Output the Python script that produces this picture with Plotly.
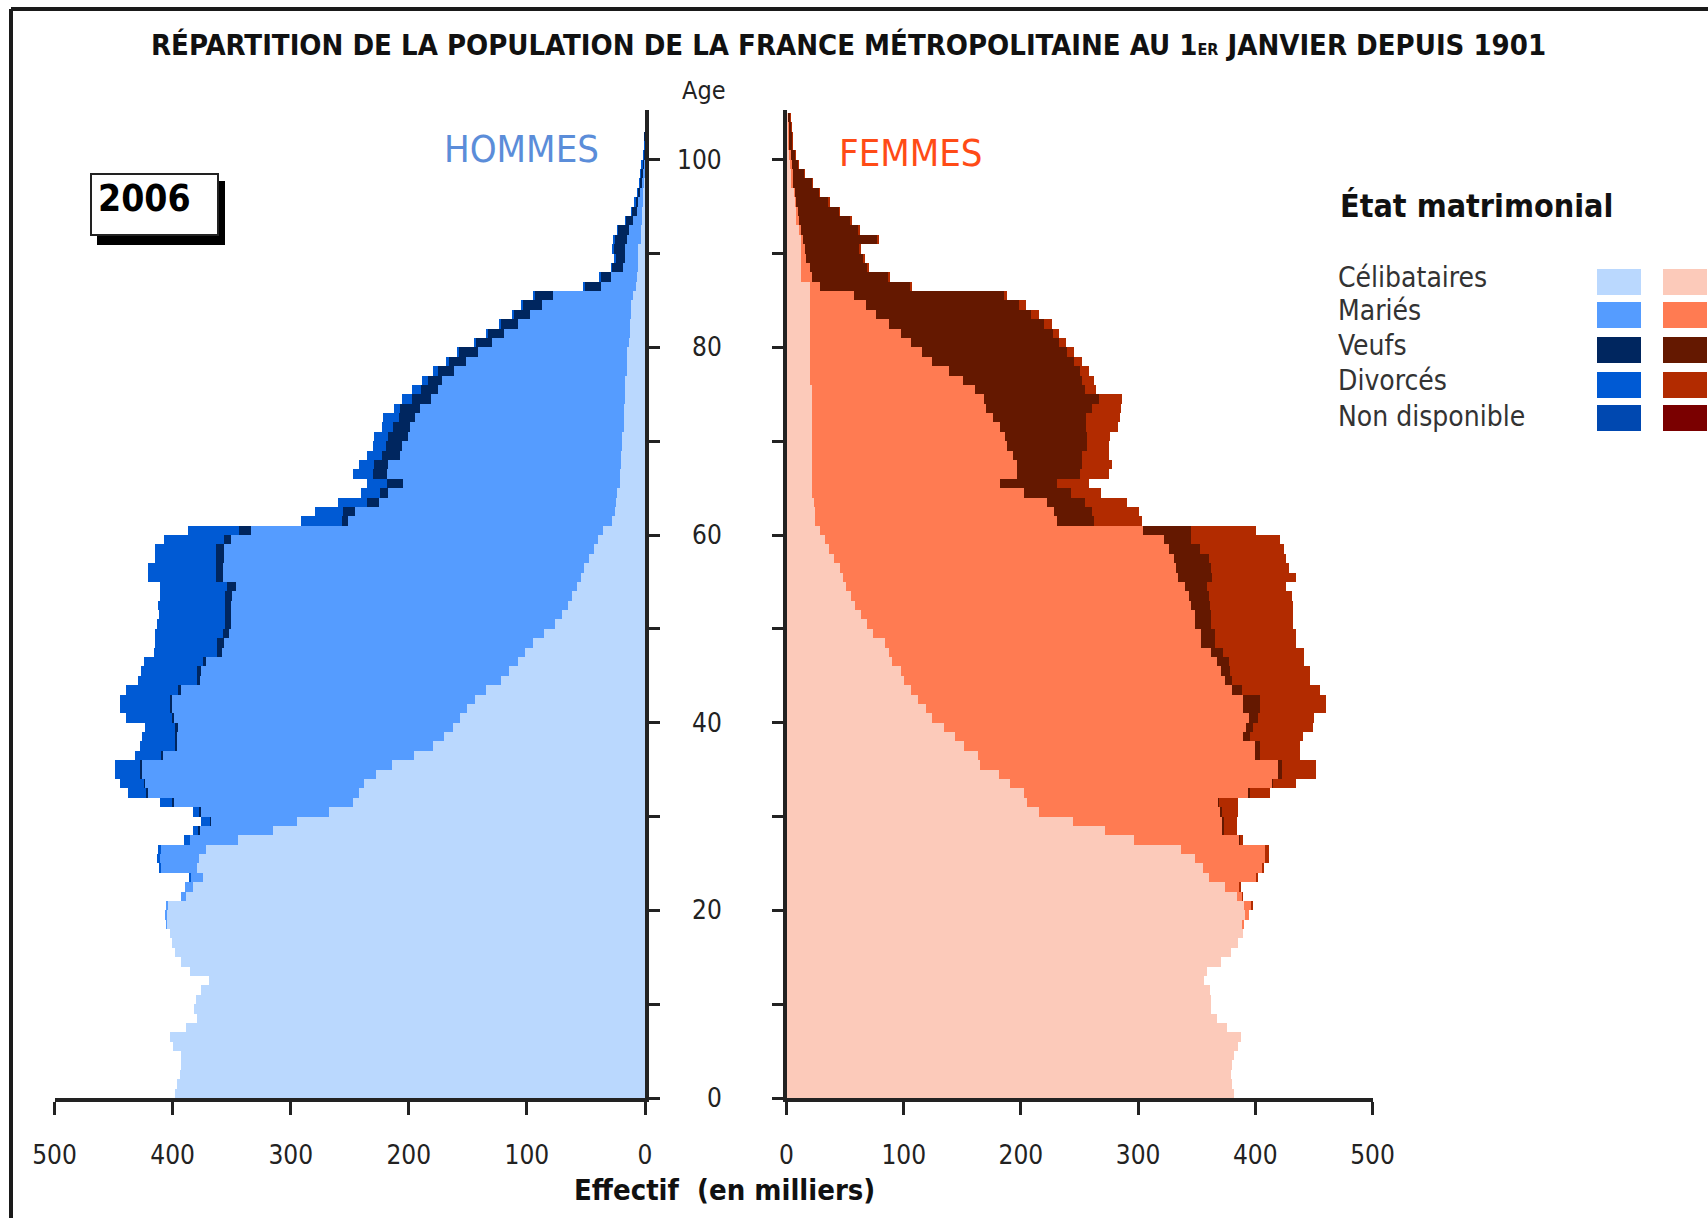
import plotly.graph_objects as go

# ---------------- DATA (effectifs en milliers, âges 0 à 105) ----------------
ages = list(range(106))

hommes_celibataires = [
    398, 397, 394, 393, 393, 400, 403, 389, 380, 382, 381, 376, 370, 386, 393, 398, 401, 403,
    405.5, 406, 404, 389, 383, 375, 380, 378, 372, 345, 315, 295, 268, 248, 243, 238, 228, 215,
    196, 180, 171, 163, 157, 151, 144, 135, 122, 116, 108, 102, 95, 86, 77, 71, 66, 62, 58, 55,
    52, 48, 44, 40, 36, 28, 26, 25, 24, 22, 22, 21, 21, 20, 20, 18, 18, 18, 17, 17, 17, 16, 16,
    16, 14, 13, 13, 12, 12, 11, 8, 7, 6, 6, 6, 4, 4, 3, 3, 2, 2, 1, 1, 0.8, 0.5, 0.2, 0.1, 0.05,
    0, 0]
hommes_maries = [
    0, 0, 0, 0, 0, 0, 0, 0, 0, 0, 0, 0, 0, 0, 0, 0, 0, 0,
    0.5, 1, 2, 4, 7, 10, 30, 33, 38, 41, 63, 73, 109, 152, 179, 186, 199, 212,
    213, 217, 226, 233, 242, 250, 257, 258, 255, 260, 264, 257, 262, 267, 274, 280, 285, 288, 289, 303,
    306, 309, 313, 311, 298, 224, 220, 201, 194, 183, 197, 197, 187, 186, 181, 181, 177, 173, 165, 159, 155, 146, 136,
    126, 116, 107, 95, 86, 76, 67, 30, 22, 13, 11, 11, 12, 10, 8, 4, 4, 3, 2, 1.5, 1.2, 0.5, 0.3, 0.1, 0.05,
    0, 0]
hommes_veufs = [
    0, 0, 0, 0, 0, 0, 0, 0, 0, 0, 0, 0, 0, 0, 0, 0, 0, 0,
    0, 0, 0, 0, 0, 0, 0, 0, 0, 0, 0.5, 1, 1, 1, 1, 1, 1, 1,
    1, 1, 1, 2, 2, 2, 2, 3, 3, 4, 3, 4, 6, 5, 5, 5, 5, 6, 7, 6,
    6, 7, 7, 6, 10, 5, 10, 10, 7, 14, 12, 12, 15, 14, 17, 15, 14, 17, 16, 14, 12, 14, 14,
    16, 14, 14, 15, 14, 16, 16, 14, 9, 9.5, 8.5, 10.5, 10.5, 9.5, 5.7, 4.8, 2.8, 1.8, 1.9, 1.4, 0.9, 0.9, 0.4, 0.3, 0.2,
    0.1, 0]
hommes_divorces = [
    0, 0, 0, 0, 0, 0, 0, 0, 0, 0, 0, 0, 0, 0, 0, 0, 0, 0,
    0, 0, 0, 0, 0, 1, 2, 3, 3, 5, 4.5, 7, 5, 10, 15, 20, 21, 21,
    22, 30, 28, 26, 39, 42, 42, 44, 50, 47, 50, 53, 52, 57, 58, 56, 57, 55, 57, 57,
    57, 51, 51, 51, 43, 35, 24, 24, 16, 17, 17, 13, 13, 11, 12, 9, 13, 5, 8, 8, 5, 4, 3,
    1, 1, 1, 1, 1, 1, 1, 1, 1, 0.5, 0.5, 0.5, 0.5, 0.5, 0.3, 0.2, 0.2, 0.2, 0.1, 0.1, 0.1, 0.1, 0.1, 0, 0,
    0, 0]

femmes_celibataires = [
    381, 380, 379, 380, 381, 385, 387, 375, 367, 362, 362, 361, 356, 358, 370, 379, 385, 389,
    388, 391, 390, 384, 374, 360, 355, 348, 336, 296, 271, 244, 215, 205, 202, 190, 181, 165,
    163, 151, 143, 134, 124, 119, 112, 106, 100, 97, 90, 87, 84, 73, 68, 63, 58, 55, 50, 48,
    45, 40, 36, 32, 28, 24, 24, 23, 21, 21, 21, 21, 21, 21, 21, 21, 21, 21, 21, 21, 20, 20, 20,
    20, 20, 20, 20, 20, 20, 20, 20, 12, 12, 12, 12, 12, 10, 8, 8, 7, 6, 4, 4, 3, 2.5, 1, 1, 1,
    1, 0]
femmes_mariees = [
    0, 0, 0, 0, 0, 0, 0, 0, 0, 0, 0, 0, 0, 0, 0, 0, 0, 0,
    2, 3, 6, 4.5, 12, 41, 50, 60, 72, 90, 101, 128, 155, 163, 192, 224, 238, 254,
    236, 248, 246, 258, 270, 270, 277, 274, 274, 273, 277, 275, 269, 280, 280, 285, 287, 288, 290, 286,
    287, 290, 290, 290, 276, 206, 204, 199, 181, 161, 175, 175, 172, 167, 165, 161, 155, 149, 147, 139, 130, 118, 104,
    95, 86, 77, 67, 56, 47, 37, 8, 9, 8, 4, 3, 2, 2, 2, 1, 1, 1, 1, 1, 1, 0.5, 0.5, 0.5, 0.3,
    0.2, 0]
femmes_veuves = [
    0, 0, 0, 0, 0, 0, 0, 0, 0, 0, 0, 0, 0, 0, 0, 0, 0, 0,
    0, 0, 0, 0, 0, 0, 0, 0, 0, 0.5, 0.5, 0.5, 1, 1, 1, 1, 3, 3,
    5, 5, 6, 6, 8, 15, 15, 8, 6, 8, 10, 10, 12, 12, 14, 14, 16, 17, 18, 29,
    30, 30, 26, 23, 41, 32, 32, 32, 40, 48, 54, 56, 59, 68, 70, 73, 79, 90, 98, 94, 102, 112, 121,
    124, 126, 130, 132, 132, 131, 128, 77, 65, 49, 49, 47, 63, 49, 44, 35.5, 27.5, 20.5, 16.7, 9.8, 5.8, 3.9, 3.4, 3.4, 2.6,
    1.7, 0]
femmes_divorcees = [
    0, 0, 0, 0, 0, 0, 0, 0, 0, 0, 0, 0, 0, 0, 0, 0, 0, 0,
    0, 0, 1, 0.5, 1, 1, 2, 3, 3, 2.5, 11.5, 11.5, 14, 16, 17, 19, 29, 29,
    34, 34, 45, 51, 48, 56, 56, 67, 66, 68, 64, 69, 69, 69, 70, 70, 71, 71, 68, 71,
    66, 66, 72, 76, 55, 41, 40, 36, 26, 28, 25, 25, 23, 19, 20, 27, 29, 25, 20, 10, 10, 8, 7,
    6, 6, 5, 7, 7, 6, 3, 2, 2, 1, 1, 1, 1, 1, 1, 0.5, 0.5, 0.5, 0.3, 0.2, 0.2, 0.1, 0.1, 0.1, 0.1,
    0.1, 0]

categories = ["Célibataires", "Mariés", "Veufs", "Divorcés", "Non disponible"]
couleurs_hommes = ["#BAD8FE", "#559CFF", "#00265F", "#005AD4", "#0048B0"]
couleurs_femmes = ["#FCCABA", "#FF7B52", "#641800", "#B22B00", "#7A0000"]
x_ticks = [0, 100, 200, 300, 400, 500]
age_ticks = [0, 10, 20, 30, 40, 50, 60, 70, 80, 90, 100]
age_labels = [0, 20, 40, 60, 80, 100]
annee = "2006"

# ---------------- FIGURE ----------------
W, H = 1708, 1218
def px(x):
    return x / W
def py(y):
    return 1 - y / H

NARROW = "DejaVu Sans Condensed, Liberation Sans Narrow, Arial Narrow, sans-serif"
AXC = "#222222"

fig = go.Figure()
ypos = [a + 0.5 for a in ages]

hommes = [hommes_celibataires, hommes_maries, hommes_veufs, hommes_divorces]
femmes = [femmes_celibataires, femmes_mariees, femmes_veuves, femmes_divorcees]

for name, vals, col in zip(categories, hommes, couleurs_hommes):
    fig.add_trace(go.Bar(y=ypos, x=vals, orientation="h", width=1,
                         marker=dict(color=col, line=dict(width=0)),
                         xaxis="x", yaxis="y", name=name, showlegend=False,
                         hoverinfo="skip"))
for name, vals, col in zip(categories, femmes, couleurs_femmes):
    fig.add_trace(go.Bar(y=ypos, x=vals, orientation="h", width=1,
                         marker=dict(color=col, line=dict(width=0)),
                         xaxis="x2", yaxis="y2", name=name, showlegend=False,
                         hoverinfo="skip"))

ydom = [py(1098), py(110)]
yrange = [0, 105.3]
axis_common = dict(showgrid=False, zeroline=False, showline=True, linecolor=AXC,
                   linewidth=4, ticks="outside", tickcolor=AXC, tickwidth=3)

fig.update_layout(
    width=W, height=H, margin=dict(l=0, r=0, t=0, b=0),
    paper_bgcolor="white", plot_bgcolor="rgba(0,0,0,0)",
    barmode="stack", bargap=0, showlegend=False,
    xaxis=dict(domain=[px(54.5), px(645)], range=[500, 0], anchor="y",
               tickvals=x_ticks, ticklen=13,
               tickfont=dict(family=NARROW, size=26, color=AXC),
               ticklabelstandoff=18, automargin=False, **axis_common),
    yaxis=dict(domain=ydom, range=yrange, anchor="x", side="right",
               tickvals=age_ticks, ticklen=11, showticklabels=False,
               automargin=False, **axis_common),
    xaxis2=dict(domain=[px(786.5), px(1372.5)], range=[0, 500], anchor="y2",
                tickvals=x_ticks, ticklen=13,
                tickfont=dict(family=NARROW, size=26, color=AXC),
                ticklabelstandoff=18, automargin=False, **axis_common),
    yaxis2=dict(domain=ydom, range=yrange, anchor="x2", side="left",
                tickvals=age_ticks, ticklen=11, showticklabels=False,
                automargin=False, **axis_common),
)

ann = []
for v in age_labels:
    ann.append(dict(x=px(724), y=v, xref="paper", yref="y", text=str(v),
                    showarrow=False, xanchor="right", yanchor="middle",
                    font=dict(family=NARROW, size=26, color=AXC)))
ann.append(dict(x=px(704), y=py(91), xref="paper", yref="paper", text="Age",
                showarrow=False, xanchor="center", yanchor="middle",
                font=dict(family=NARROW, size=25, color=AXC)))
ann.append(dict(x=px(848), y=py(45), xref="paper", yref="paper",
                text="RÉPARTITION DE LA POPULATION DE LA FRANCE MÉTROPOLITAINE AU 1<span style='font-size:16px'>ER</span> JANVIER DEPUIS 1901",
                showarrow=False, xanchor="center", yanchor="middle",
                font=dict(family=NARROW, size=29, color="#111111", weight="bold")))
ann.append(dict(x=px(521), y=py(149), xref="paper", yref="paper", text="HOMMES",
                showarrow=False, xanchor="center", yanchor="middle",
                font=dict(family=NARROW, size=38, color="#5B8DD9")))
ann.append(dict(x=px(911), y=py(153), xref="paper", yref="paper", text="FEMMES",
                showarrow=False, xanchor="center", yanchor="middle",
                font=dict(family=NARROW, size=38, color="#FF4B16")))
ann.append(dict(x=px(724), y=py(1190), xref="paper", yref="paper",
                text="Effectif  (en milliers)",
                showarrow=False, xanchor="center", yanchor="middle",
                font=dict(family=NARROW, size=29, color="#111111", weight="bold")))
ann.append(dict(x=px(96), y=py(199), xref="paper", yref="paper", text=annee,
                showarrow=False, xanchor="left", yanchor="middle",
                font=dict(family=NARROW, size=37, color="#000000", weight="bold")))
ann.append(dict(x=px(1338), y=py(206), xref="paper", yref="paper", text="État matrimonial",
                showarrow=False, xanchor="left", yanchor="middle",
                font=dict(family=NARROW, size=32, color="#111111", weight="bold")))
leg_y = [277, 311, 345, 380, 416]
sw_y = [282, 315, 350, 385, 418]
for lab, ly in zip(categories, leg_y):
    ann.append(dict(x=px(1336), y=py(ly), xref="paper", yref="paper", text=lab,
                    showarrow=False, xanchor="left", yanchor="middle",
                    font=dict(family=NARROW, size=28, color="#333333")))

shapes = []
# outer frame: top and left edges
shapes.append(dict(type="line", xref="paper", yref="paper", x0=px(11), x1=1,
                   y0=py(9), y1=py(9), line=dict(color="#1a1a1a", width=4)))
shapes.append(dict(type="line", xref="paper", yref="paper", x0=px(11), x1=px(11),
                   y0=0, y1=py(9), line=dict(color="#1a1a1a", width=4)))
# year box with shadow
shapes.append(dict(type="rect", xref="paper", yref="paper", x0=px(97), x1=px(225),
                   y0=py(245), y1=py(181), line=dict(width=0), fillcolor="#000000"))
shapes.append(dict(type="rect", xref="paper", yref="paper", x0=px(91), x1=px(218),
                   y0=py(235), y1=py(174), line=dict(color="#222222", width=2),
                   fillcolor="#FFFFFF"))
for cb, cf, sy in zip(couleurs_hommes, couleurs_femmes, sw_y):
    shapes.append(dict(type="rect", xref="paper", yref="paper", x0=px(1597), x1=px(1641),
                       y0=py(sy + 13), y1=py(sy - 13), line=dict(width=0), fillcolor=cb))
    shapes.append(dict(type="rect", xref="paper", yref="paper", x0=px(1663), x1=px(1707),
                       y0=py(sy + 13), y1=py(sy - 13), line=dict(width=0), fillcolor=cf))

fig.update_layout(annotations=ann, shapes=shapes)
fig.write_html("out.html", config={"responsive": False, "displayModeBar": False},
               post_script="document.body.style.margin='0';document.body.style.overflow='hidden';")
